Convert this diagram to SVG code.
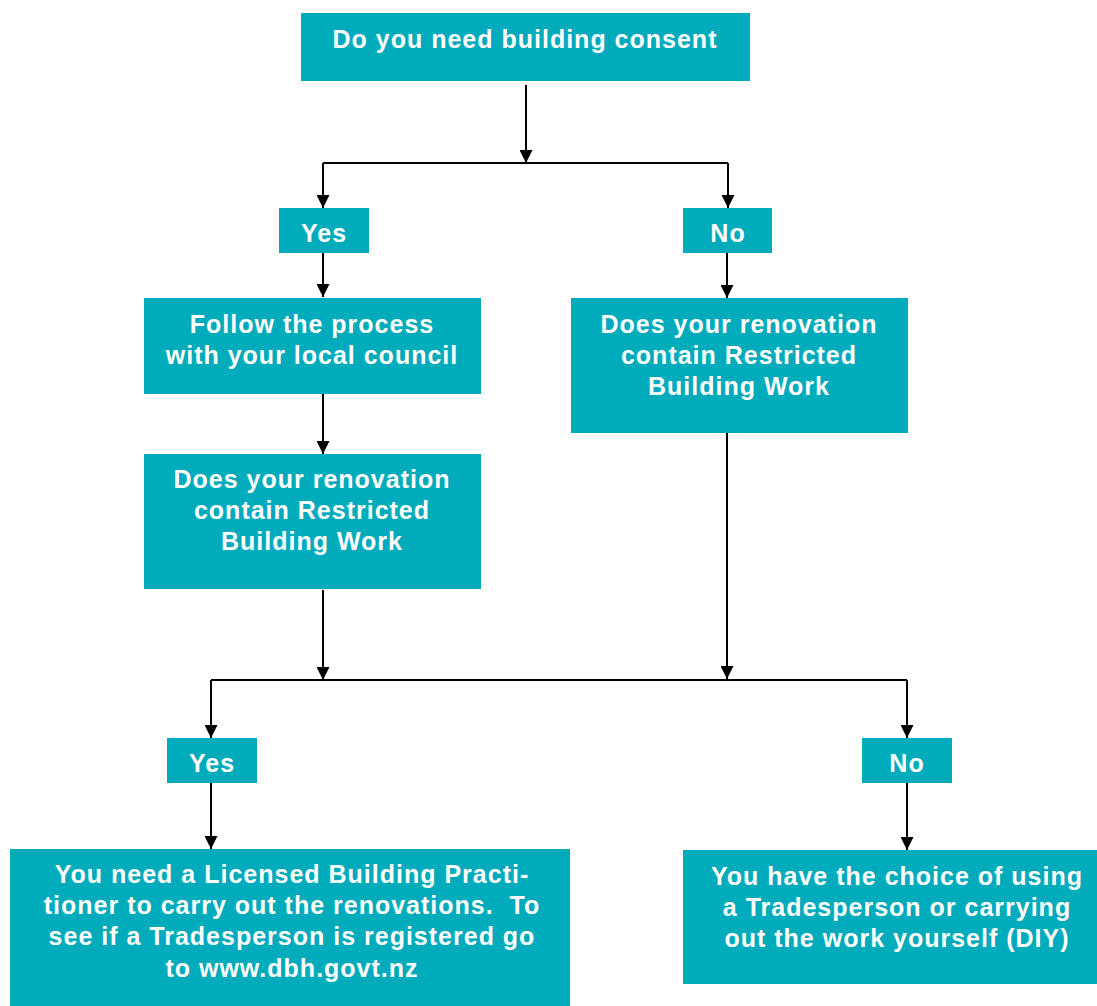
<svg xmlns="http://www.w3.org/2000/svg" width="1097" height="1006" viewBox="0 0 1097 1006">
<style>
.box{fill:#00ABBB;}
.t{font-family:"Liberation Sans",Arial,sans-serif;font-weight:bold;font-size:25px;fill:#fff;text-anchor:middle;letter-spacing:1px;white-space:pre;}
.c{fill:none;stroke:#000;stroke-width:2;}
.a{marker-end:url(#arr);}
</style>
<defs>
<marker id="arr" markerUnits="userSpaceOnUse" markerWidth="13" markerHeight="13" viewBox="0 0 13 13" refX="13" refY="6.5" orient="auto">
<path d="M0,0 L13,6.5 L0,13 z" fill="#000"/>
</marker>
</defs>
<rect width="1097" height="1006" fill="#fff"/>
<g id="connectors">
<path class="c a" d="M526,85 V163"/>
<path class="c" d="M323,163 H728"/>
<path class="c a" d="M323,163 V208"/>
<path class="c a" d="M728,163 V208"/>
<path class="c a" d="M323,253 V297"/>
<path class="c a" d="M323,394 V454"/>
<path class="c a" d="M727,253 V298"/>
<path class="c a" d="M323,590 V680"/>
<path class="c a" d="M727,433 V679"/>
<path class="c" d="M211,680 H907"/>
<path class="c a" d="M211,680 V738"/>
<path class="c a" d="M907,680 V738"/>
<path class="c a" d="M211,783 V849"/>
<path class="c a" d="M907,783 V850"/>
</g>
<g id="n_consent">
<rect class="box" x="301" y="13" width="449" height="68"/>
<text class="t" x="525" y="48">Do you need building consent</text>
</g>
<g id="n_yes1">
<rect class="box" x="279" y="208" width="90" height="45"/>
<text class="t" x="324" y="242">Yes</text>
</g>
<g id="n_no1">
<rect class="box" x="683" y="208" width="89" height="45"/>
<text class="t" x="728" y="242">No</text>
</g>
<g id="n_follow">
<rect class="box" x="144" y="298" width="337" height="96"/>
<text class="t" x="312" y="333">Follow the process</text>
<text class="t" x="312" y="364">with your local council</text>
</g>
<g id="n_rbw_left">
<rect class="box" x="144" y="454" width="337" height="135"/>
<text class="t" x="312" y="488">Does your renovation</text>
<text class="t" x="312" y="519">contain Restricted</text>
<text class="t" x="312" y="550">Building Work</text>
</g>
<g id="n_rbw_right">
<rect class="box" x="571" y="298" width="337" height="135"/>
<text class="t" x="739" y="333">Does your renovation</text>
<text class="t" x="739" y="364">contain Restricted</text>
<text class="t" x="739" y="395">Building Work</text>
</g>
<g id="n_yes2">
<rect class="box" x="167" y="738" width="90" height="45"/>
<text class="t" x="212" y="772">Yes</text>
</g>
<g id="n_no2">
<rect class="box" x="862" y="738" width="90" height="45"/>
<text class="t" x="907" y="772">No</text>
</g>
<g id="n_lbp">
<rect class="box" x="10" y="849" width="560" height="157"/>
<text class="t" x="292" y="883">You need a Licensed Building Practi-</text>
<text class="t" x="292" y="914" xml:space="preserve">tioner to carry out the renovations.  To</text>
<text class="t" x="292" y="945">see if a Tradesperson is registered go</text>
<text class="t" x="292" y="977">to www.dbh.govt.nz</text>
</g>
<g id="n_diy">
<rect class="box" x="683" y="850" width="414" height="134"/>
<text class="t" x="897" y="885">You have the choice of using</text>
<text class="t" x="897" y="916">a Tradesperson or carrying</text>
<text class="t" x="897" y="947">out the work yourself (DIY)</text>
</g>
</svg>
